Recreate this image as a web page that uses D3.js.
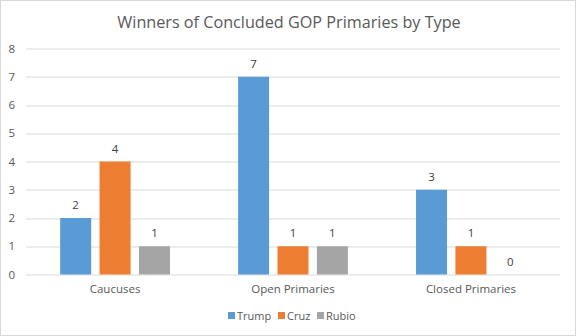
<!DOCTYPE html>
<html>
<head>
<meta charset="utf-8">
<script src="https://cdn.jsdelivr.net/npm/d3@7"></script>
<style>
  body { margin: 0; background: #fff; }
  svg { display: block; font-family: "Open Sans", "Liberation Sans", sans-serif; }
</style>
</head>
<body>
<svg id="chart"></svg>
<script>
// data
const categories = ["Caucuses", "Open Primaries", "Closed Primaries"];
const seriesNames = ["Trump", "Cruz", "Rubio"];
const trump = [2, 7, 3];
const cruz = [4, 1, 1];
const rubio = [1, 1, 0];
const yTicks = [0, 1, 2, 3, 4, 5, 6, 7, 8];
const colors = ["#5B9BD5", "#ED7D31", "#A5A5A5"];

const seriesValues = [trump, cruz, rubio];
const rows = categories.map(function (c, i) {
    return { category: c, values: seriesNames.map(function (s, j) { return { name: s, value: seriesValues[j][i], color: colors[j] }; }) };
});

// layout
const W = 576, H = 336;
const margin = { top: 48.5, right: 16, bottom: 61.5, left: 26 };
const width = W - margin.left - margin.right;
const height = H - margin.top - margin.bottom;
const font = "\"Open Sans\", \"Liberation Sans\", sans-serif";

const svg = d3.select("#chart").attr("width", W).attr("height", H);

// outer frame
svg.append("rect")
    .attr("x", 0.5).attr("y", 0.5)
    .attr("width", W - 1).attr("height", H - 1)
    .attr("fill", "#fff").attr("stroke", "#D9D9D9");

// title
svg.append("text")
    .attr("x", W / 2 + 1).attr("y", 28)
    .attr("text-anchor", "middle")
    .attr("fill", "#595959")
    .style("font-size", "16.2px")
    .text("Winners of Concluded GOP Primaries by Type");

const g = svg.append("g")
    .attr("transform", "translate(" + margin.left + "," + margin.top + ")");

// scales (gap width ~219%, overlap ~-27%)
const x0 = d3.scaleBand()
    .domain(categories)
    .range([0, width])
    .paddingInner(0.383)
    .paddingOuter(0.192);

const x1 = d3.scaleBand()
    .domain(seriesNames)
    .range([0, x0.bandwidth()])
    .paddingInner(0.213)
    .paddingOuter(0);

const y = d3.scaleLinear()
    .domain([0, 8])
    .range([height, 0]);

// gridlines
g.append("g")
    .selectAll("line")
    .data(yTicks)
    .enter().append("line")
    .attr("x1", 0).attr("x2", width)
    .attr("y1", function (d) { return Math.round(y(d)) + 0.5; })
    .attr("y2", function (d) { return Math.round(y(d)) + 0.5; })
    .attr("stroke", "#D9D9D9");

// y axis labels
const yAxis = g.append("g")
    .call(d3.axisLeft(y).tickValues(yTicks).tickSize(0).tickPadding(11));
yAxis.select(".domain").remove();
yAxis.selectAll("text")
    .attr("fill", "#595959")
    .style("font-size", "11.5px")
    .style("font-family", font);

// x axis labels
const xAxis = g.append("g")
    .attr("transform", "translate(0," + height + ")")
    .call(d3.axisBottom(x0).tickSize(0).tickPadding(10));
xAxis.select(".domain").remove();
xAxis.selectAll("text")
    .attr("fill", "#595959")
    .style("font-size", "11.5px")
    .style("font-family", font);

// bars
const groups = g.selectAll(".grp")
    .data(rows)
    .enter().append("g")
    .attr("class", "grp")
    .attr("transform", function (d) { return "translate(" + x0(d.category) + ",0)"; });

groups.selectAll("rect")
    .data(function (d) { return d.values; })
    .enter().append("rect")
    .attr("x", function (d) { return x1(d.name); })
    .attr("y", function (d) { return y(d.value); })
    .attr("width", x1.bandwidth())
    .attr("height", function (d) { return height - y(d.value); })
    .attr("fill", function (d) { return d.color; });

// value labels
groups.selectAll(".lbl")
    .data(function (d) { return d.values; })
    .enter().append("text")
    .attr("class", "lbl")
    .attr("x", function (d) { return x1(d.name) + x1.bandwidth() / 2; })
    .attr("y", function (d) { return y(d.value) - 9; })
    .attr("text-anchor", "middle")
    .attr("fill", "#404040")
    .style("font-size", "11.5px")
    .text(function (d) { return d.value; });

// legend
const legend = svg.append("g").attr("transform", "translate(0,316)");
const legendX = [228, 278, 317];
seriesNames.forEach(function (s, i) {
    legend.append("rect")
        .attr("x", legendX[i]).attr("y", -4)
        .attr("width", 7).attr("height", 7)
        .attr("fill", colors[i]);
    legend.append("text")
        .attr("x", legendX[i] + 9).attr("y", 4)
        .attr("fill", "#595959")
        .style("font-size", "11px")
        .text(s);
});
</script>
</body>
</html>
